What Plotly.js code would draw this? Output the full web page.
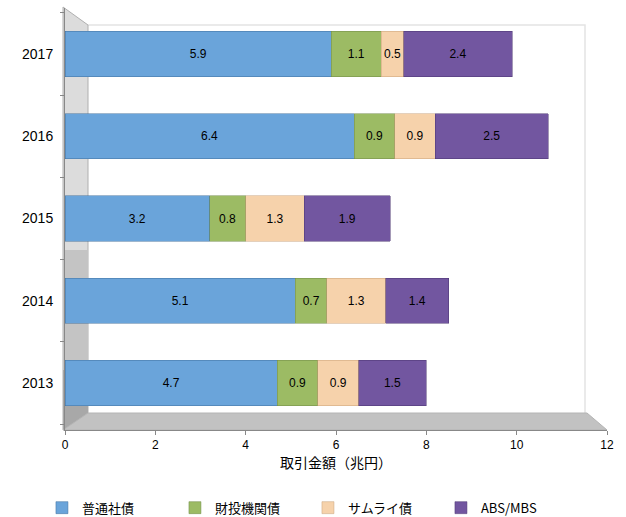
<!DOCTYPE html>
<html><head><meta charset="utf-8">
<script src="https://cdn.plot.ly/plotly-3.0.1.min.js"></script>
<style>html,body{margin:0;padding:0;background:#fff}#c{width:626px;height:517px}</style>
</head><body><div id="c"></div>
<script>
const years = ['2013','2014','2015','2016','2017'];
const seriesNames = ['普通社債','財投機関債','サムライ債','ABS/MBS'];
const futsuShasai = [4.7, 5.1, 3.2, 6.4, 5.9];
const zaitoKikansai = [0.9, 0.7, 0.8, 0.9, 1.1];
const samuraiSai = [0.9, 1.3, 1.3, 0.9, 0.5];
const absMbs = [1.5, 1.4, 1.9, 2.5, 2.4];
const xTicks = [0, 2, 4, 6, 8, 10, 12];

const values = [futsuShasai, zaitoKikansai, samuraiSai, absMbs];
const colors = ['#6aa4da', '#9cbb64', '#f6d2ab', '#7256a0'];
const lineColors = ['#3f6f9e', '#6f8a45', '#c9a27a', '#4a3470'];

const traces = values.map((v, i) => ({
  type: 'bar', orientation: 'h', name: seriesNames[i],
  y: years, x: v,
  text: v.map(n => n.toFixed(1)),
  textposition: 'inside', insidetextanchor: 'middle',
  textangle: 0, constraintext: 'none',
  textfont: {family: 'Liberation Sans, Arial, sans-serif', size: 12, color: '#000'},
  marker: {color: colors[i], line: {color: lineColors[i], width: 0.5}},
  width: 0.55,
  hoverinfo: 'x+y+name'
}));

const px = (x) => (x - 65) / 542;
const py = (y) => (430 - y) / 422;

const shapes = [
  {type: 'path', xref: 'paper', yref: 'paper', layer: 'below',
   path: `M${px(88)},${py(25)} L${px(585)},${py(25)} L${px(585)},${py(413)}`,
   line: {color: '#e4e4e4', width: 1.5}},
  {type: 'path', xref: 'paper', yref: 'paper', layer: 'below',
   path: `M${px(63)},${py(7)} L${px(88)},${py(25)} L${px(88)},${py(413)} L${px(63)},${py(430)} Z`,
   fillcolor: '#dcdcdc', line: {color: '#b0b0b0', width: 1}},
  {type: 'path', xref: 'paper', yref: 'paper', layer: 'below',
   path: `M${px(63)},${py(250)} L${px(88)},${py(250)} L${px(88)},${py(413)} L${px(63)},${py(430)} Z`,
   fillcolor: '#c4c4c4', line: {width: 0}},
  {type: 'path', xref: 'paper', yref: 'paper', layer: 'below',
   path: `M${px(63)},${py(370)} L${px(88)},${py(370)} L${px(88)},${py(413)} L${px(63)},${py(430)} Z`,
   fillcolor: '#a8a8a8', line: {width: 0}},
  {type: 'path', xref: 'paper', yref: 'paper', layer: 'below',
   path: `M${px(63)},${py(430)} L${px(607)},${py(430)} L${px(587)},${py(413)} L${px(88)},${py(413)} Z`,
   fillcolor: '#c2c2c2', line: {color: '#b4b4b4', width: 1}}
];

const layout = {
  width: 626, height: 517,
  margin: {l: 65, r: 19, t: 8, b: 87, autoexpand: false},
  barmode: 'stack',
  paper_bgcolor: '#fff', plot_bgcolor: 'rgba(0,0,0,0)',
  showlegend: true,
  font: {family: 'Liberation Sans, Arial, sans-serif', color: '#000'},
  xaxis: {
    range: [0, 12], tickvals: xTicks, ticktext: xTicks.map(String),
    showgrid: false, zeroline: false,
    showline: true, linecolor: '#888', linewidth: 1,
    ticks: 'outside', ticklen: 4, tickcolor: '#888',
    tickfont: {family: 'Liberation Sans, Arial, sans-serif', size: 12, color: '#000'},
    title: {text: '取引金額（兆円）', font: {family: 'Noto Sans CJK JP, sans-serif', size: 14, color: '#000'}, standoff: 6},
    fixedrange: true, automargin: false
  },
  yaxis: {
    type: 'category', categoryorder: 'array', categoryarray: years,
    range: [-0.571, 4.56],
    showgrid: false, zeroline: false,
    showline: true, linecolor: '#888', linewidth: 1,
    ticks: 'outside', tickson: 'boundaries', ticklen: 4, tickcolor: '#888',
    tickfont: {family: 'Liberation Sans Narrow, Liberation Sans, Arial, sans-serif', size: 14, color: '#000'},
    ticklabelstandoff: 8,
    fixedrange: true, automargin: false
  },
  legend: {
    orientation: 'h', xref: 'container', x: 0.067, xanchor: 'left',
    yref: 'container', y: 0.018, yanchor: 'middle',
    traceorder: 'normal',
    entrywidth: 88, entrywidthmode: 'pixels',
    font: {family: 'Noto Sans CJK JP, sans-serif', size: 13, color: '#000'},
    itemwidth: 30
  },
  shapes: shapes
};

Plotly.newPlot('c', traces, layout, {displayModeBar: false, staticPlot: true});
</script>
</body></html>
